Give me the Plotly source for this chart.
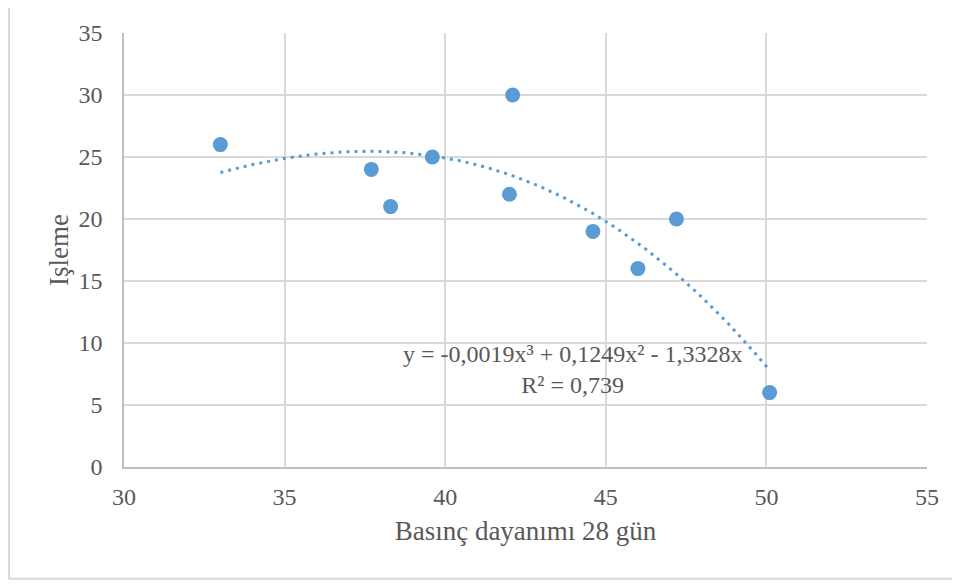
import numpy as np
import plotly.graph_objects as go

# Data
basinc = [33.0, 37.7, 38.3, 39.6, 42.0, 42.1, 44.6, 46.0, 47.2, 50.1]
isleme = [26, 24, 21, 25, 22, 30, 19, 16, 20, 6]

# Trendline coefficients shown on the chart (cubic, no intercept)
trend_coef = [-0.0019, 0.1249, -1.3328, 0.0]
trend_label = "y = -0,0019x³ + 0,1249x² - 1,3328x<br>R² = 0,739"

x_ticks = [30, 35, 40, 45, 50, 55]
y_ticks = [0, 5, 10, 15, 20, 25, 30, 35]

blue = "#5B9BD5"
txt = "#595959"
font_family = "Liberation Serif, Times New Roman, serif"
FS = 24
FT = 27

W, H = 952, 577          # page body has an 8px margin
L, T = 116, 20
R = W - 919
B = H - 459

tx = np.linspace(min(basinc), max(basinc), 200)
ty = np.polyval(trend_coef, tx)

fig = go.Figure()
fig.add_trace(go.Scatter(
    x=tx, y=ty, mode="lines",
    line=dict(color=blue, width=3, dash="3px,5px"),
    hoverinfo="skip", showlegend=False,
))
fig.add_trace(go.Scatter(
    x=basinc, y=isleme, mode="markers",
    marker=dict(color=blue, size=15),
    showlegend=False,
))

fig.add_annotation(
    x=43.95, y=7.9, xref="x", yref="y",
    text=trend_label, showarrow=False,
    font=dict(family=font_family, size=FS, color=txt),
    align="center", xanchor="center", yanchor="middle",
)

pw = W - L - R
ph = H - T - B
# outer chart border (left and bottom visible)
fig.add_shape(type="rect", xref="paper", yref="paper",
              x0=(-L + 1) / pw, x1=1.3, y0=-(B - 5) / ph, y1=1.3,
              line=dict(color="#d9d9d9", width=2), layer="below")

fig.update_layout(
    width=W, height=H,
    margin=dict(l=L, r=R, t=T, b=B),
    paper_bgcolor="white", plot_bgcolor="white",
    font=dict(family=font_family, size=FS, color=txt),
)
fig.update_xaxes(
    range=[30, 55], tickvals=x_ticks, ticks="",
    showgrid=True, gridcolor="#d9d9d9", gridwidth=1.5,
    showline=True, linecolor="#bfbfbf", linewidth=1.5,
    zeroline=False, ticklabelstandoff=7,
    title=dict(text="Basınç dayanımı 28 gün", font=dict(size=FT, color=txt), standoff=13),
    tickfont=dict(size=FS, color=txt),
)
fig.update_yaxes(
    range=[0, 35], tickvals=y_ticks, ticks="",
    showgrid=True, gridcolor="#d9d9d9", gridwidth=1.5,
    showline=True, linecolor="#bfbfbf", linewidth=1.5,
    zeroline=False, ticklabelstandoff=15,
    title=dict(text="Işleme", font=dict(size=FT, color=txt), standoff=2),
    tickfont=dict(size=FS, color=txt),
)

fig.write_html("out.html")
